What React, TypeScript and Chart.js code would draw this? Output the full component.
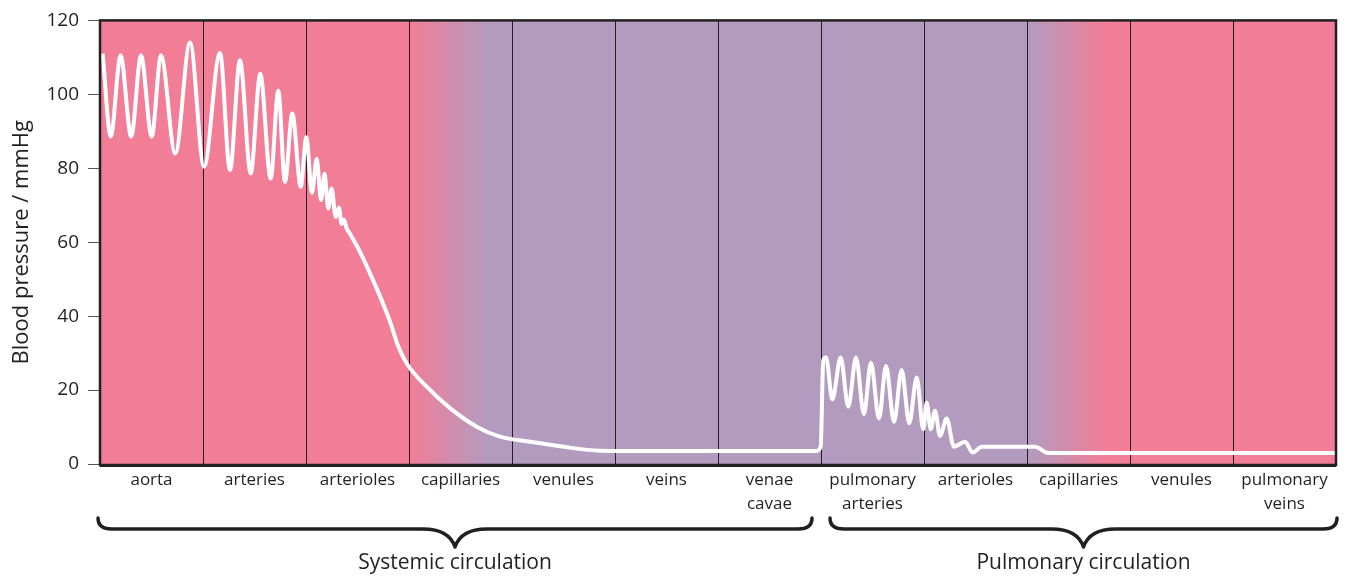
import React, { useEffect, useRef } from "react";
import { Chart, registerables } from "chart.js";

Chart.register(...registerables);

// ---- data ----
const columnLabels: (string | string[])[] = [
  "aorta", "arteries", "arterioles", "capillaries", "venules", "veins",
  ["venae", "cavae"], ["pulmonary", "arteries"], "arterioles", "capillaries",
  "venules", ["pulmonary", "veins"],
];
// blood type in each column: o = oxygenated, d = deoxygenated, od / do = transition
const columnZones = ["o", "o", "o", "od", "d", "d", "d", "d", "d", "do", "o", "o"];

const groupLabels = ["Systemic circulation", "Pulmonary circulation"];
const groupFrom = [0, 7];
const groupTo = [7, 12];

const yTicks = [0, 20, 40, 60, 80, 100, 120];

// position along the circulation, in column units (0..12)
const pressureX = [
  0.026, 0.104, 0.2, 0.303, 0.398, 0.502, 0.592, 0.731, 0.874, 1.01,
  1.165, 1.262, 1.359, 1.463, 1.556, 1.657, 1.731, 1.796, 1.867, 1.949,
  2.003, 2.058, 2.104, 2.146, 2.18, 2.216, 2.249, 2.288, 2.32, 2.346,
  2.369, 2.395, 2.427, 2.524, 2.686, 2.816, 2.897, 2.978, 3.172, 3.398, 3.657,
  3.883, 4.175, 4.466, 4.854, 5.34, 6.95,
  6.997, 7.022, 7.049, 7.11, 7.191, 7.265, 7.34, 7.417, 7.485, 7.563,
  7.631, 7.709, 7.783, 7.857, 7.929, 7.993, 8.026, 8.065, 8.107, 8.155,
  8.22, 8.291, 8.398, 8.473, 8.56, 9.078, 9.207, 12.0,
];
// blood pressure / mmHg
const pressureY = [
  111, 88.6, 110.5, 88.6, 110.5, 88.6, 110.5, 84, 114, 80.4,
  111.2, 79.5, 109.2, 78.6, 105.6, 77.2, 101, 76.3, 94.8, 75,
  88.4, 73.4, 82.6, 71.4, 78.5, 69.1, 74.5, 66.8, 69.4, 64.9,
  66.1, 63.7, 62.3, 57.4, 47.5, 38.5, 31.7, 27.2, 20.9, 15.1, 10.1,
  7.4, 6.0, 4.8, 3.6, 3.5, 3.5,
  4.7, 28.1, 28.8, 17.5, 28.8, 15.5, 28.8, 13.5, 27.4, 12.3,
  26.5, 11.4, 25.4, 11, 23.4, 9.4, 16.6, 9.4, 14.4, 7.6,
  12.3, 4.7, 6.0, 3.1, 4.7, 4.7, 3.0, 3.0,
];

const PINK = "#f27d96";
const PURPLE = "#b39bc0";
const INK = "#231f20";
const FONT = "'Open Sans', 'Noto Sans', sans-serif";

const decorPlugin = {
  id: "decor",
  beforeDatasetsDraw(chart: any) {
    const { ctx, chartArea } = chart;
    const xs = chart.scales.x;
    const { top, bottom } = chartArea;
    ctx.save();
    columnZones.forEach((z, i) => {
      const x0 = xs.getPixelForValue(i);
      const x1 = xs.getPixelForValue(i + 1);
      let fill: any = z === "d" ? PURPLE : PINK;
      if (z === "od" || z === "do") {
        const g = ctx.createLinearGradient(x0, 0, x0 + (x1 - x0) * 0.78, 0);
        g.addColorStop(0, z === "od" ? PINK : PURPLE);
        g.addColorStop(1, z === "od" ? PURPLE : PINK);
        fill = g;
      }
      ctx.fillStyle = fill;
      ctx.fillRect(x0, top, x1 - x0 + 0.5, bottom - top);
    });
    ctx.strokeStyle = INK;
    ctx.lineWidth = 1;
    for (let i = 1; i < columnZones.length; i++) {
      const x = Math.round(xs.getPixelForValue(i)) + 0.5;
      ctx.beginPath();
      ctx.moveTo(x, top);
      ctx.lineTo(x, bottom);
      ctx.stroke();
    }
    ctx.restore();
  },
  afterDraw(chart: any) {
    const { ctx, chartArea } = chart;
    const xs = chart.scales.x;
    const { left, right, top, bottom } = chartArea;
    ctx.save();
    // frame
    ctx.strokeStyle = INK;
    ctx.lineWidth = 2.5;
    ctx.strokeRect(left, top, right - left, bottom - top + 1);
    ctx.lineWidth = 3;
    ctx.beginPath();
    ctx.moveTo(left, bottom + 1.5);
    ctx.lineTo(right, bottom + 1.5);
    ctx.stroke();
    // braces
    const y0 = 518;
    const yb = 529;
    const yt = 547;
    ctx.lineCap = "round";
    ctx.lineJoin = "round";
    groupLabels.forEach((label, i) => {
      const a = groupFrom[i] === 0 ? left - 2 : xs.getPixelForValue(groupFrom[i]) + 9;
      const b = groupTo[i] === 12 ? right + 1 : xs.getPixelForValue(groupTo[i]) - 9;
      const c = (a + b) / 2;
      ctx.lineWidth = 3.5;
      ctx.beginPath();
      ctx.moveTo(a, y0);
      ctx.quadraticCurveTo(a, yb, a + 14, yb);
      ctx.lineTo(c - 32, yb);
      ctx.quadraticCurveTo(c - 6, yb, c, yt);
      ctx.quadraticCurveTo(c + 6, yb, c + 32, yb);
      ctx.lineTo(b - 14, yb);
      ctx.quadraticCurveTo(b, yb, b, y0);
      ctx.stroke();
      ctx.fillStyle = INK;
      ctx.font = `21px ${FONT}`;
      ctx.textAlign = "center";
      ctx.textBaseline = "middle";
      ctx.fillText(label, c, 563);
    });
    ctx.restore();
  },
};

export default function App() {
  const ref = useRef<HTMLCanvasElement>(null);
  useEffect(() => {
    const canvas = ref.current;
    if (!canvas) return;
    const chart = new Chart(canvas, {
      type: "line",
      data: {
        datasets: [
          {
            data: pressureX.map((x, i) => ({ x, y: pressureY[i] })),
            borderColor: "#ffffff",
            borderWidth: 4,
            pointRadius: 0,
            fill: false,
            cubicInterpolationMode: "monotone",
          },
        ],
      },
      options: {
        responsive: false,
        animation: false,
        devicePixelRatio: 1,
        layout: { padding: { top: 20, right: 11, left: 0, bottom: 0 } },
        plugins: { legend: { display: false }, tooltip: { enabled: false } },
        scales: {
          x: {
            type: "linear",
            min: 0,
            max: 12,
            afterBuildTicks: (s: any) => {
              s.ticks = columnLabels.map((_, i) => ({ value: i + 0.5 }));
            },
            afterFit: (s: any) => {
              s.height = 113;
            },
            ticks: {
              autoSkip: false,
              maxRotation: 0,
              padding: 4,
              color: INK,
              font: { family: FONT, size: 17, lineHeight: 1.4 },
              callback: (_v: any, i: number) => columnLabels[i],
            },
            grid: { display: false, drawTicks: false },
            border: { display: false },
          },
          y: {
            min: 0,
            max: 120,
            afterBuildTicks: (s: any) => {
              s.ticks = yTicks.map((v) => ({ value: v }));
            },
            afterFit: (s: any) => {
              s.width = 100;
            },
            ticks: {
              padding: 9,
              color: INK,
              font: { family: FONT, size: 19 },
            },
            grid: { drawOnChartArea: false, tickLength: 12, color: "#555555" },
            border: { display: false },
            title: {
              display: true,
              text: "Blood pressure / mmHg",
              color: INK,
              font: { family: FONT, size: 22 },
              padding: { top: 9, bottom: 0 },
            },
          },
        },
      },
      plugins: [decorPlugin],
    } as any);
    return () => chart.destroy();
  }, []);
  return (
    <div style={{ position: "fixed", left: 0, top: 0, width: 1347, height: 577, background: "#fff" }}>
      <canvas ref={ref} width={1347} height={577} style={{ display: "block" }} />
    </div>
  );
}
